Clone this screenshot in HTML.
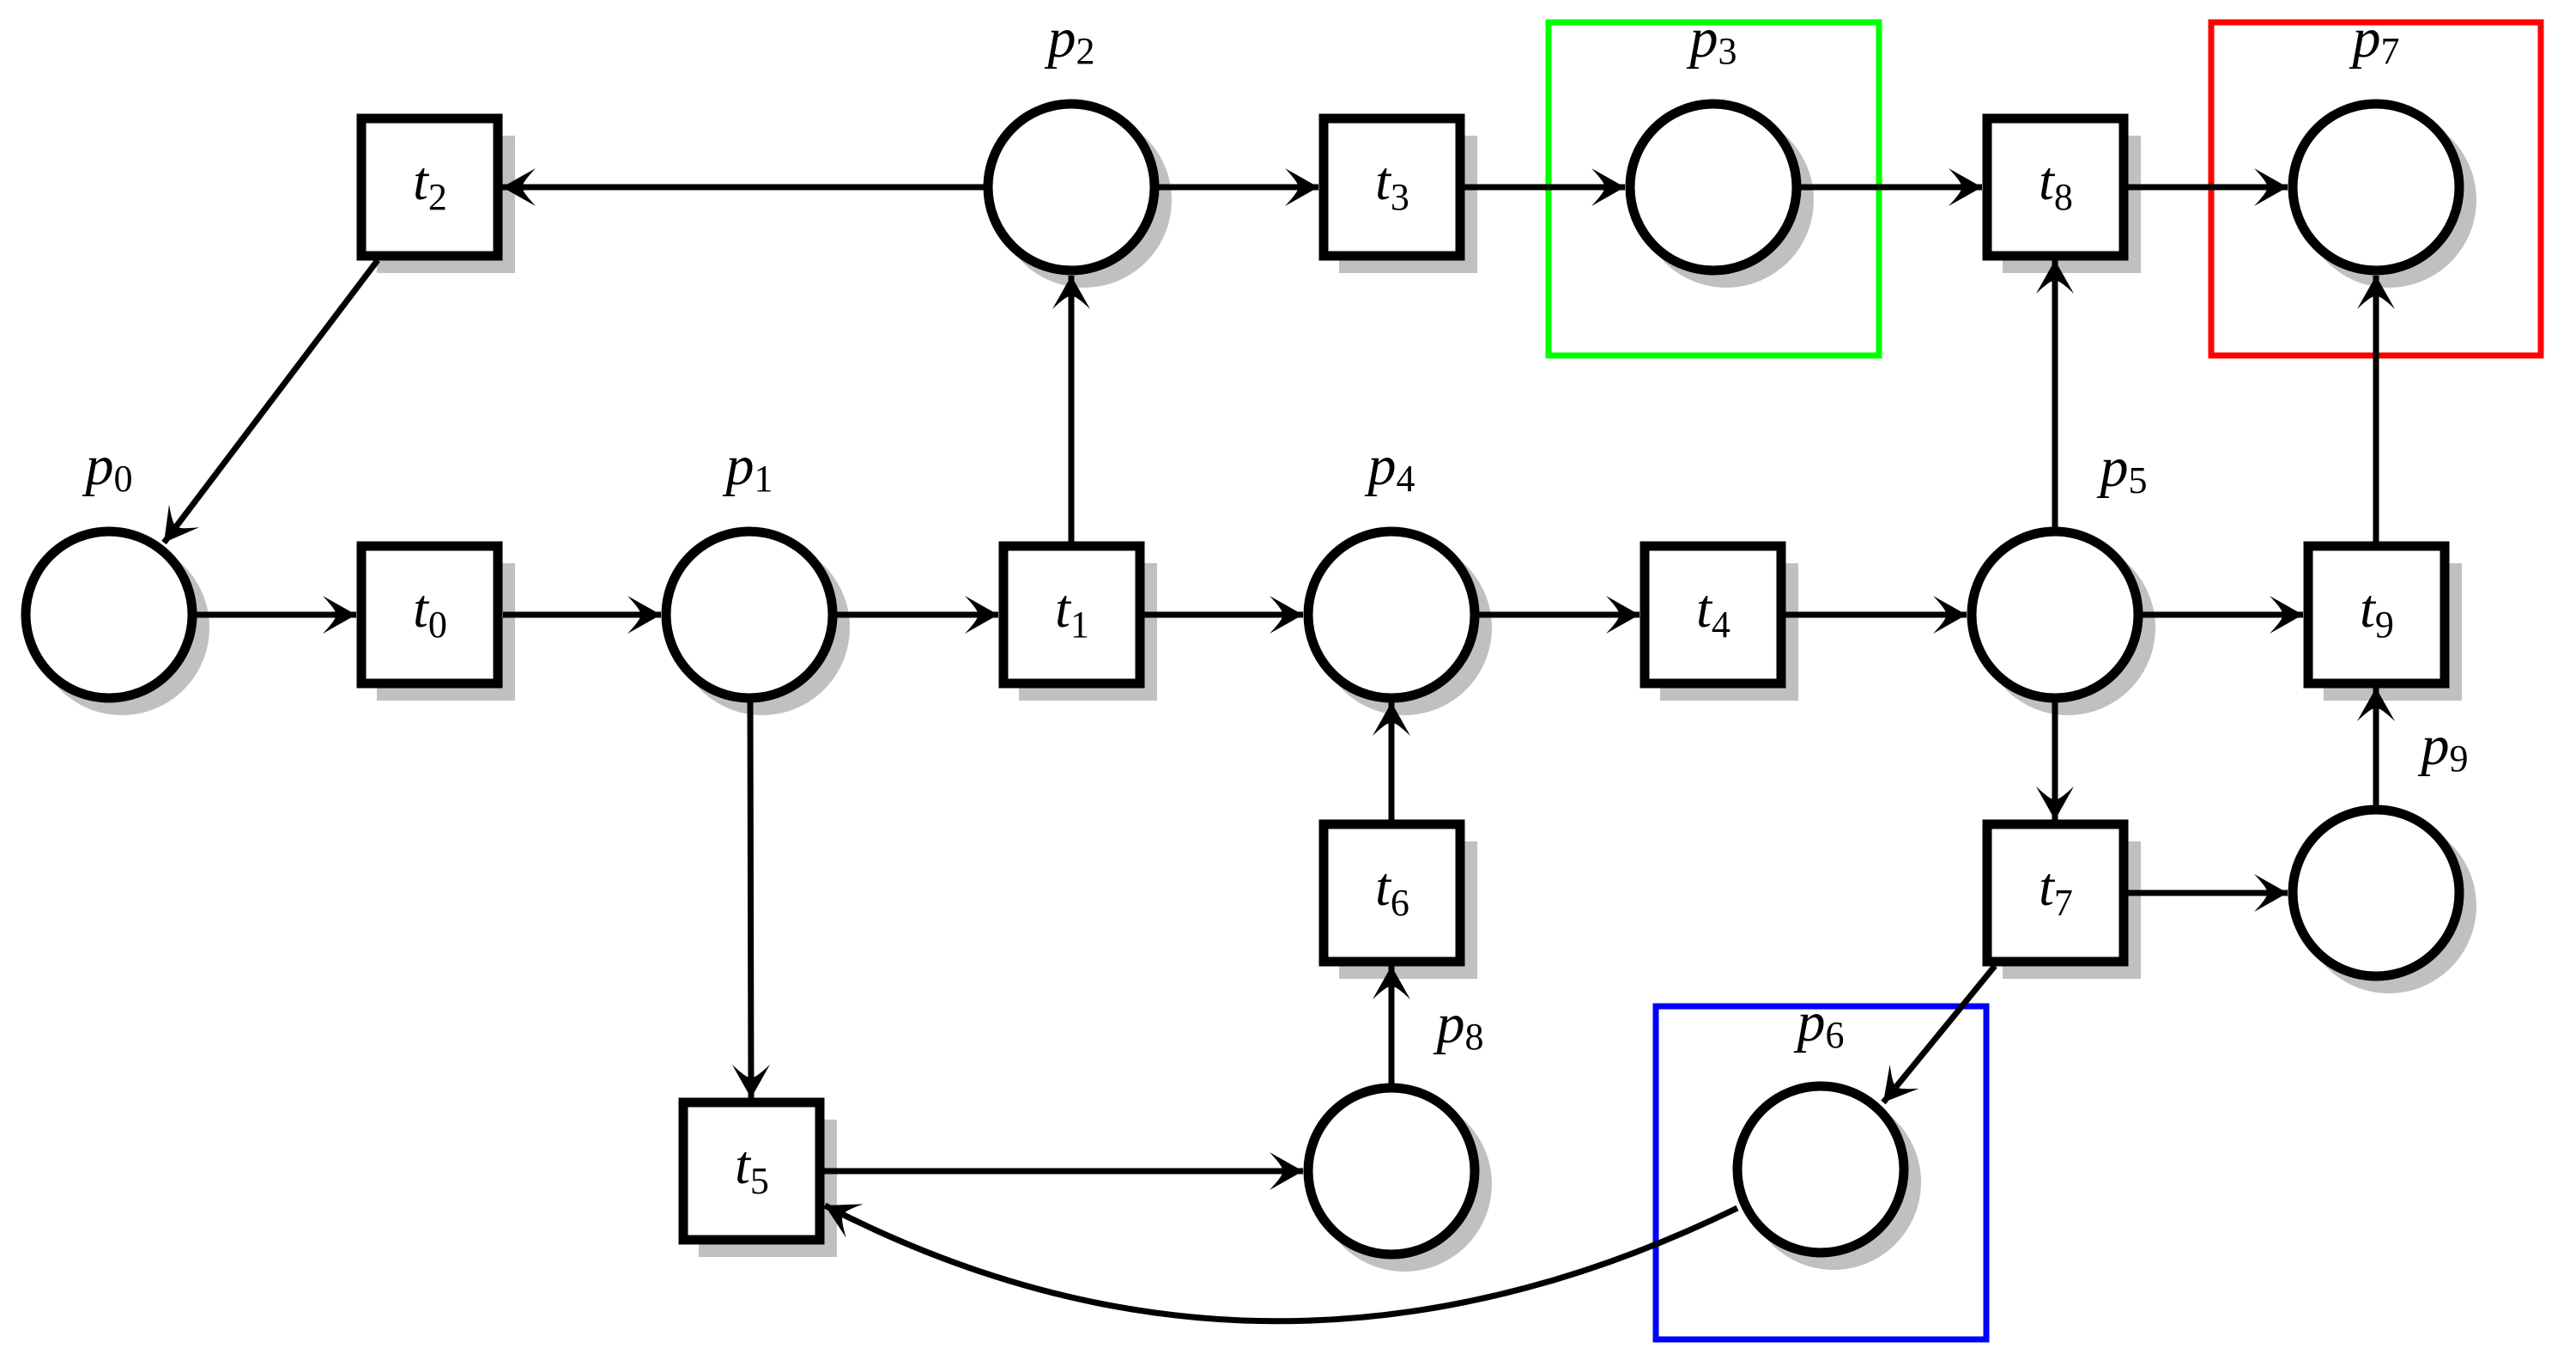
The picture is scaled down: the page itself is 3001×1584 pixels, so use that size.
<!DOCTYPE html>
<html><head><meta charset="utf-8"><style>
html,body{margin:0;padding:0;background:#fff;}
svg{display:block;}
text{font-family:"Liberation Serif",serif;fill:#000;}
.it{font-style:italic;}
</style></head><body>
<svg width="3001" height="1584" viewBox="0 0 3001 1584" xmlns="http://www.w3.org/2000/svg">
<defs>
<marker id="a" markerUnits="userSpaceOnUse" markerWidth="60" markerHeight="60" viewBox="-50 -30 60 60" refX="0" refY="0" orient="auto">
<path d="M0,0 L-39,-22 Q-22,-4 -24,0 Q-22,4 -39,22 Z" fill="#000"/>
</marker>
</defs>

<!-- colored boxes -->
<rect x="1804" y="26" width="385" height="388" fill="none" stroke="#00ff00" stroke-width="7"/>
<rect x="2576" y="26" width="384" height="388" fill="none" stroke="#ff0000" stroke-width="7"/>
<rect x="1929" y="1172" width="385" height="388" fill="none" stroke="#0000ff" stroke-width="7"/>

<!-- shadows: places -->
<g fill="#c0c0c0">
<circle cx="142" cy="731" r="102"/>
<circle cx="888" cy="731" r="102"/>
<circle cx="1263" cy="233" r="102"/>
<circle cx="2011" cy="233" r="102"/>
<circle cx="1636" cy="731" r="102"/>
<circle cx="2409" cy="731" r="102"/>
<circle cx="2136" cy="1377" r="102"/>
<circle cx="2783" cy="233" r="102"/>
<circle cx="1636" cy="1379" r="102"/>
<circle cx="2783" cy="1055" r="102"/>
</g>
<!-- shadows: transitions (x-61..+100, y-60..+100) -->
<g fill="#c0c0c0">
<rect x="439" y="656" width="161" height="160"/>
<rect x="1187" y="656" width="161" height="160"/>
<rect x="439" y="158" width="161" height="160"/>
<rect x="1560" y="158" width="161" height="160"/>
<rect x="1934" y="656" width="161" height="160"/>
<rect x="814" y="1304" width="161" height="160"/>
<rect x="1560" y="980" width="161" height="160"/>
<rect x="2333" y="980" width="161" height="160"/>
<rect x="2333" y="158" width="161" height="160"/>
<rect x="2707" y="656" width="161" height="160"/>
</g>

<!-- arcs -->
<g stroke="#000" stroke-width="7" fill="none" marker-end="url(#a)">
<line x1="228" y1="716" x2="415" y2="716"/>
<line x1="586" y1="716" x2="770" y2="716"/>
<line x1="975" y1="716" x2="1163" y2="716"/>
<line x1="1333" y1="716" x2="1518" y2="716"/>
<line x1="1723" y1="716" x2="1910" y2="716"/>
<line x1="2080" y1="716" x2="2291" y2="716"/>
<line x1="2496" y1="716" x2="2683" y2="716"/>
<line x1="1248" y1="631" x2="1248" y2="321"/>
<line x1="1146" y1="218" x2="585" y2="218"/>
<line x1="1350" y1="218" x2="1536" y2="218"/>
<line x1="1706" y1="218" x2="1893" y2="218"/>
<line x1="2098" y1="218" x2="2309" y2="218"/>
<line x1="2479" y1="218" x2="2665" y2="218"/>
<line x1="2394" y1="614" x2="2394" y2="303"/>
<line x1="2768" y1="631" x2="2768" y2="321"/>
<line x1="874" y1="818" x2="875" y2="1279"/>
<line x1="960" y1="1364" x2="1518" y2="1364"/>
<line x1="1621" y1="1262" x2="1621" y2="1125"/>
<line x1="1621" y1="955" x2="1621" y2="818"/>
<line x1="2394" y1="818" x2="2394" y2="955"/>
<line x1="2479" y1="1040" x2="2665" y2="1040"/>
<line x1="2768" y1="938" x2="2768" y2="801"/>
<line x1="2324" y1="1125" x2="2194" y2="1284"/>
<line x1="440" y1="303" x2="191" y2="632"/>
<path d="M2024,1407 Q1480,1672 961,1404"/>
</g>

<!-- places -->
<g fill="#fff" stroke="#000" stroke-width="11">
<circle cx="127" cy="716" r="97"/>
<circle cx="873" cy="716" r="97"/>
<circle cx="1248" cy="218" r="97"/>
<circle cx="1996" cy="218" r="97"/>
<circle cx="1621" cy="716" r="97"/>
<circle cx="2394" cy="716" r="97"/>
<circle cx="2121" cy="1362" r="97"/>
<circle cx="2768" cy="218" r="97"/>
<circle cx="1621" cy="1364" r="97"/>
<circle cx="2768" cy="1040" r="97"/>
</g>
<!-- transitions -->
<g fill="#fff" stroke="#000" stroke-width="11">
<rect x="421" y="636" width="159" height="160"/>
<rect x="1169" y="636" width="159" height="160"/>
<rect x="421" y="138" width="159" height="160"/>
<rect x="1542" y="138" width="159" height="160"/>
<rect x="1916" y="636" width="159" height="160"/>
<rect x="796" y="1284" width="159" height="160"/>
<rect x="1542" y="960" width="159" height="160"/>
<rect x="2315" y="960" width="159" height="160"/>
<rect x="2315" y="138" width="159" height="160"/>
<rect x="2689" y="636" width="159" height="160"/>
</g>

<!-- transition labels -->
<g font-size="64" text-anchor="middle">
<text x="501" y="730"><tspan class="it">t</tspan><tspan font-size="44" dy="12">0</tspan></text>
<text x="1249" y="730"><tspan class="it">t</tspan><tspan font-size="44" dy="12">1</tspan></text>
<text x="501" y="232"><tspan class="it">t</tspan><tspan font-size="44" dy="12">2</tspan></text>
<text x="1622" y="232"><tspan class="it">t</tspan><tspan font-size="44" dy="12">3</tspan></text>
<text x="1996" y="730"><tspan class="it">t</tspan><tspan font-size="44" dy="12">4</tspan></text>
<text x="876" y="1378"><tspan class="it">t</tspan><tspan font-size="44" dy="12">5</tspan></text>
<text x="1622" y="1054"><tspan class="it">t</tspan><tspan font-size="44" dy="12">6</tspan></text>
<text x="2395" y="1054"><tspan class="it">t</tspan><tspan font-size="44" dy="12">7</tspan></text>
<text x="2395" y="232"><tspan class="it">t</tspan><tspan font-size="44" dy="12">8</tspan></text>
<text x="2769" y="730"><tspan class="it">t</tspan><tspan font-size="44" dy="12">9</tspan></text>
</g>
<!-- place labels -->
<g font-size="66" text-anchor="middle">
<text x="127" y="564"><tspan class="it">p</tspan><tspan font-size="44" dy="8">0</tspan></text>
<text x="873" y="564"><tspan class="it">p</tspan><tspan font-size="44" dy="8">1</tspan></text>
<text x="1248" y="66"><tspan class="it">p</tspan><tspan font-size="44" dy="8">2</tspan></text>
<text x="1996" y="66"><tspan class="it">p</tspan><tspan font-size="44" dy="8">3</tspan></text>
<text x="1621" y="564"><tspan class="it">p</tspan><tspan font-size="44" dy="8">4</tspan></text>
<text x="2474" y="566"><tspan class="it">p</tspan><tspan font-size="44" dy="8">5</tspan></text>
<text x="2121" y="1212"><tspan class="it">p</tspan><tspan font-size="44" dy="8">6</tspan></text>
<text x="2768" y="66"><tspan class="it">p</tspan><tspan font-size="44" dy="8">7</tspan></text>
<text x="1701" y="1214"><tspan class="it">p</tspan><tspan font-size="44" dy="8">8</tspan></text>
<text x="2848" y="890"><tspan class="it">p</tspan><tspan font-size="44" dy="8">9</tspan></text>
</g>
</svg>
</body></html>
